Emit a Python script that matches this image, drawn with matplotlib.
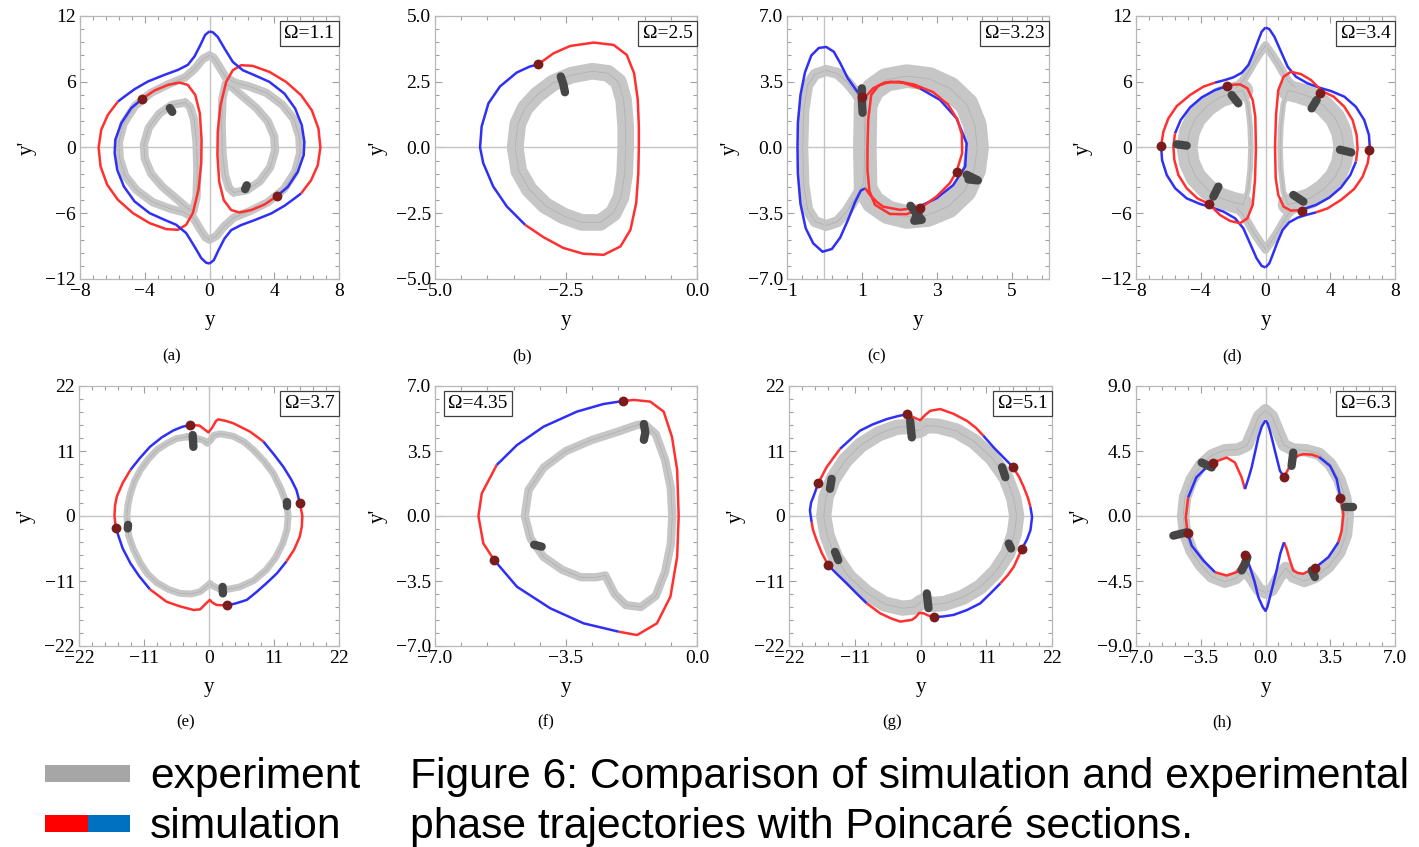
import matplotlib.pyplot as plt
from matplotlib.patches import Rectangle
from matplotlib.ticker import AutoMinorLocator

plt.rcParams['font.family'] = ['Liberation Serif', 'DejaVu Serif']

# ---------------- data ----------------
# simulation curves: list of (phase colour, points); consecutive pieces share end points
# (a) Omega = 1.1, half of the orbit, the other half is the point reflection
a_sim_half = [
    ('b', [(0, 10.6), (-0.27, 10.27), (-0.56, 9.36), (-0.93, 8.30), (-1.34, 7.54), (-1.95, 7.08),
           (-2.78, 6.63), (-3.81, 6.02), (-4.63, 5.32), (-5.25, 4.65), (-5.66, 4.19)]),
    ('r', [(-5.66, 4.19), (-6.28, 2.98), (-6.69, 1.61), (-6.85, 0), (-6.73, -1.73), (-6.32, -3.40),
           (-5.66, -4.77), (-4.73, -5.99), (-3.70, -6.90), (-2.67, -7.45), (-1.95, -7.51), (-1.44, -7.05),
           (-1.03, -5.99), (-0.68, -3.86), (-0.51, -1.43), (-0.49, 0.70), (-0.60, 3.13), (-0.88, 4.80),
           (-1.34, 5.71), (-1.85, 5.93), (-2.57, 5.71), (-3.40, 5.20), (-4.16, 4.44)]),
    ('b', [(-4.16, 4.44), (-4.84, 3.59), (-5.45, 2.22), (-5.82, 0.70), (-5.86, -0.52), (-5.70, -2.04),
           (-5.29, -3.56), (-4.63, -4.92), (-3.70, -5.99), (-2.78, -6.60), (-2.06, -7.05), (-1.44, -7.81),
           (-0.93, -9.03), (-0.51, -10.09), (-0.22, -10.5), (0, -10.6)]),
]
a_exp_outer_half = [(0, 8.4), (-0.4, 8.1), (-0.9, 7.2), (-1.5, 6.4), (-2.5, 5.8), (-3.6, 5.0), (-4.6, 3.8),
                    (-5.3, 2.2), (-5.6, 0.5), (-5.55, -1.0), (-5.2, -2.6), (-4.5, -3.9), (-3.5, -5.0),
                    (-2.4, -5.6), (-1.6, -5.9), (-1.0, -6.4), (-0.6, -7.4), (-0.25, -8.2), (0, -8.4)]
a_exp_inner = [(-1.5, 4.1), (-2.3, 3.9), (-3.1, 3.1), (-3.75, 1.8), (-4.05, 0.3), (-4.0, -1.0), (-3.6, -2.4),
               (-2.9, -3.6), (-2.1, -4.6), (-1.4, -5.5), (-1.0, -5.8), (-0.8, -4.5), (-0.75, -2.0),
               (-0.8, 0.5), (-0.95, 2.5), (-1.2, 3.7), (-1.5, 4.1)]
a_blobs = [[(-2.45, 3.6), (-2.3, 3.25)], [(2.3, -3.45), (2.2, -3.8)]]
a_dots = [(-4.16, 4.44), (4.16, -4.44)]

# (b) Omega = 2.5
b_sim = [
    ('r', [(-3.03, 3.16), (-2.74, 3.58), (-2.42, 3.86), (-1.97, 3.99), (-1.59, 3.90), (-1.34, 3.52),
           (-1.20, 2.82), (-1.13, 1.81), (-1.11, 0.80), (-1.11, 0), (-1.12, -0.97), (-1.16, -2.11),
           (-1.27, -3.13), (-1.46, -3.76), (-1.78, -4.08), (-2.17, -4.04), (-2.55, -3.82), (-2.93, -3.41),
           (-3.28, -2.94)]),
    ('b', [(-3.28, -2.94), (-3.63, -2.24), (-3.89, -1.48), (-4.08, -0.59), (-4.14, 0), (-4.11, 0.80),
           (-3.98, 1.68), (-3.76, 2.32), (-3.44, 2.85), (-3.19, 3.08), (-3.03, 3.16)]),
]
b_exp = [(-3.47, 0), (-3.42, 0.9), (-3.28, 1.5), (-3.05, 2.0), (-2.75, 2.45), (-2.4, 2.75), (-2.0, 2.9),
         (-1.7, 2.82), (-1.5, 2.5), (-1.4, 1.8), (-1.36, 0.8), (-1.36, 0), (-1.38, -1.0), (-1.45, -1.9),
         (-1.6, -2.5), (-1.85, -2.85), (-2.2, -2.85), (-2.55, -2.6), (-2.9, -2.2), (-3.2, -1.6),
         (-3.4, -0.9), (-3.47, 0)]
b_blobs = [[(-2.6, 2.7), (-2.55, 2.4), (-2.52, 2.1)]]
b_dots = [(-3.03, 3.16)]

# (c) Omega = 3.23
c_sim = [
    ('b', [(1.0, 2.67), (0.85, 3.05), (0.62, 3.7), (0.42, 4.5), (0.25, 5.1), (0.05, 5.35), (-0.15, 5.3),
           (-0.35, 4.9), (-0.52, 4.0), (-0.64, 2.8), (-0.71, 1.3), (-0.72, 0), (-0.71, -1.4), (-0.64, -3.0),
           (-0.5, -4.3), (-0.3, -5.1), (-0.05, -5.55), (0.2, -5.4), (0.42, -4.8), (0.62, -3.9),
           (0.82, -2.9), (0.97, -2.3), (1.09, -2.17)]),
    ('r', [(1.09, -2.17), (1.22, -2.53), (1.4, -2.9), (1.57, -3.15), (2.02, -3.32), (2.47, -3.2)]),
    ('b', [(2.47, -3.2), (3.0, -2.7), (3.44, -2.0), (3.76, -1.02), (3.8, 0.22), (3.53, 1.55), (3.09, 2.53),
           (2.55, 3.15)]),
    ('r', [(2.55, 3.15), (2.1, 3.45), (1.75, 3.5), (1.45, 3.3), (1.25, 2.8), (1.17, 1.5), (1.15, 0),
           (1.15, -1.2), (1.2, -2.3), (1.35, -3.05), (1.75, -3.54), (2.2, -3.55), (2.55, -3.25),
           (3.0, -2.6), (3.35, -1.9), (3.53, -1.29), (3.68, -0.3), (3.67, 0.7), (3.55, 1.5), (3.3, 2.3),
           (2.9, 2.95), (2.4, 3.35), (2.0, 3.5), (1.6, 3.45), (1.3, 3.15), (1.12, 2.75), (1.0, 2.67)]),
]
c_exp_left = [(1.05, 2.2), (0.85, 2.9), (0.6, 3.5), (0.35, 3.95), (0.05, 4.1), (-0.25, 3.9), (-0.45, 3.3),
              (-0.55, 2.0), (-0.58, 0), (-0.55, -2.0), (-0.45, -3.3), (-0.25, -3.95), (0.05, -4.15),
              (0.35, -3.95), (0.6, -3.4), (0.85, -2.6), (1.05, -1.9), (1.08, 0), (1.05, 2.2)]
c_exp_right = [(1.1, 2.3), (1.3, 3.1), (1.65, 3.6), (2.2, 3.8), (2.8, 3.65), (3.35, 3.15), (3.8, 2.3),
               (4.02, 1.2), (4.08, 0), (4.0, -1.2), (3.75, -2.3), (3.3, -3.15), (2.75, -3.6), (2.2, -3.7),
               (1.7, -3.45), (1.3, -2.9), (1.1, -2.2), (1.08, 0), (1.1, 2.3)]
c_blobs = [[(1.0, 3.15), (1.0, 2.5), (1.02, 1.85)],
           [(2.3, -3.1), (2.45, -3.5), (2.6, -3.85), (2.4, -3.9), (2.55, -3.3)],
           [(3.8, -1.45), (3.95, -1.6), (4.1, -1.75), (3.85, -1.7)]]
c_dots = [(1.0, 2.67), (3.53, -1.29), (2.55, -3.2)]

# (d) Omega = 3.4, halves, the rest is the point reflection
d_sim_outer_half = [
    ('b', [(0, 10.95), (-0.24, 10.56), (-0.44, 9.80), (-0.75, 8.59), (-1.06, 7.52), (-1.47, 6.82),
           (-1.99, 6.40), (-2.50, 6.16), (-3.12, 5.92)]),
    ('r', [(-3.12, 5.92), (-3.84, 5.55), (-4.66, 4.79), (-5.48, 3.78), (-6.00, 2.66), (-6.31, 1.44),
           (-6.45, 0.14)]),
    ('b', [(-6.45, 0.14), (-6.39, -1.14), (-6.10, -2.51), (-5.58, -3.72), (-4.87, -4.64), (-4.05, -5.15),
           (-3.33, -5.46), (-2.60, -5.85), (-1.88, -6.46), (-1.37, -7.37), (-0.96, -8.74), (-0.55, -10.11),
           (-0.24, -10.8), (0, -10.95)]),
]
d_sim_loop = [
    ('b', [(-2.36, 5.61), (-3.12, 5.24), (-3.94, 4.57), (-4.66, 3.66), (-5.24, 2.51), (-5.59, 1.29)]),
    ('r', [(-5.59, 1.29), (-5.69, 0.08), (-5.63, -1.14), (-5.38, -2.51), (-4.87, -3.72), (-4.21, -4.64),
           (-3.49, -5.15), (-2.81, -6.16), (-2.19, -6.70), (-1.57, -6.91), (-1.12, -6.46), (-0.79, -5.24),
           (-0.65, -2.96), (-0.59, -0.08), (-0.63, 2.81), (-0.79, 4.33), (-1.12, 5.40), (-1.57, 5.76),
           (-1.99, 5.73), (-2.36, 5.61)]),
]
d_exp_arc = [(-1.4, 5.2), (-2.0, 5.0), (-2.8, 4.6), (-3.6, 3.8), (-4.3, 2.7), (-4.7, 1.4), (-4.85, 0),
             (-4.7, -1.4), (-4.3, -2.7), (-3.6, -3.8), (-2.8, -4.6), (-2.0, -5.0), (-1.4, -5.2)]
d_exp_side = [(-1.4, 5.2), (-1.1, 4.0), (-0.95, 2.0), (-0.9, 0), (-0.95, -2.0), (-1.1, -4.0), (-1.4, -5.2)]
d_exp_spikes = [[(0, 9.3), (-0.35, 8.6), (-0.75, 7.7), (-1.1, 6.8), (-1.4, 6.1), (-1.8, 5.5)],
                [(0, -9.3), (-0.35, -8.6), (-0.75, -7.7), (-1.1, -6.8), (-1.4, -6.1), (-1.8, -5.5)]]
d_blobs = [[(-2.09, 4.79), (-1.68, 4.03)], [(-5.48, 0.29), (-4.87, 0.17)], [(-3.22, -4.48), (-2.91, -3.57)],
           [(2.85, 3.57), (3.16, 4.33)], [(4.6, -0.2), (5.3, -0.45)], [(1.72, -4.33), (2.34, -4.94)]]
d_dots = [(-6.45, 0.14), (-2.36, 5.61), (-3.49, -5.15), (6.37, -0.23), (3.38, 5.0), (2.27, -5.76)]

# (e) Omega = 3.7
e_sim = [
    ('r', [(-3.21, 15.4), (-1.6, 15.3), (-0.7, 14.6), (-0.1, 14.15), (0.5, 14.9), (1.2, 16.1), (1.6, 16.35),
           (2.8, 16.1), (4.1, 15.7), (5.5, 15.0), (6.9, 14.3), (8.0, 13.5), (9.2, 12.6)]),
    ('b', [(9.2, 12.6), (11.0, 10.4), (12.6, 8.3), (13.9, 6.2), (14.8, 4.4), (15.36, 2.26)]),
    ('r', [(15.36, 2.26), (15.8, 0), (15.7, -1.8), (15.36, -3.5), (14.4, -5.7), (13.1, -7.7)]),
    ('b', [(13.1, -7.7), (11.5, -9.7), (9.7, -11.4), (8.0, -12.9), (6.4, -14.2), (4.5, -14.8), (2.98, -15.12)]),
    ('r', [(2.98, -15.12), (1.3, -15.06), (0.5, -14.6), (0.15, -14.2), (-0.5, -14.8), (-1.5, -15.8),
           (-2.6, -15.9), (-4.9, -15.3), (-7.2, -14.5), (-10.0, -12.4)]),
    ('b', [(-10.0, -12.4), (-11.8, -10.2), (-13.3, -8.0), (-14.6, -5.5), (-15.76, -2.09)]),
    ('r', [(-15.76, -2.09), (-16.0, 0), (-15.9, 1.8), (-15.6, 3.3), (-14.6, 5.6), (-13.3, 7.8)]),
    ('b', [(-13.3, 7.8), (-11.7, 9.8), (-10.0, 11.7), (-8.0, 13.3), (-6.0, 14.5), (-4.5, 15.1), (-3.21, 15.4)]),
]
e_exp = [(-3.77, 13.4), (-2.0, 13.1), (-0.9, 12.8), (-0.3, 12.3), (0.3, 12.9), (0.9, 13.7), (2.0, 13.9),
         (4.1, 13.5), (6.0, 12.5), (7.5, 11.2), (9.3, 9.3), (10.9, 7.2), (12.2, 4.5), (13.1, 2.1), (13.4, 0),
         (13.2, -2.3), (12.5, -4.6), (11.3, -7.0), (9.7, -9.1), (7.6, -10.9), (5.2, -12.0), (3.2, -12.4),
         (1.86, -12.4), (0.6, -11.8), (0.17, -11.4), (-0.5, -12.0), (-1.5, -12.8), (-3.0, -13.2),
         (-4.9, -13.1), (-6.9, -12.4), (-8.8, -11.3), (-10.4, -9.8), (-11.6, -8.0), (-12.8, -5.6),
         (-13.6, -3.3), (-13.9, 0), (-13.7, 2.0), (-13.3, 3.8), (-12.6, 5.9), (-11.6, 7.8), (-10.3, 9.6),
         (-8.8, 11.2), (-7.1, 12.3), (-5.5, 13.1), (-3.77, 13.4)]
e_blobs = [[(-2.76, 13.7), (-2.64, 11.7)], [(-13.7, -1.5), (-13.75, -2.1)], [(13.2, 2.3), (13.2, 1.7)],
           [(2.3, -12.0), (2.35, -13.1)]]
e_dots = [(-3.21, 15.4), (15.36, 2.26), (2.98, -15.12), (-15.76, -2.09)]

# (f) Omega = 4.35
f_sim = [
    ('r', [(-1.98, 6.19), (-1.69, 6.25), (-1.25, 6.16), (-0.89, 5.62), (-0.67, 4.27), (-0.53, 2.48),
           (-0.49, 0), (-0.53, -2.19), (-0.71, -4.34), (-1.07, -5.78), (-1.6, -6.41), (-2.09, -6.23)]),
    ('b', [(-2.09, -6.23), (-3.03, -5.78), (-3.92, -4.97), (-4.81, -3.81), (-5.42, -2.37)]),
    ('r', [(-5.42, -2.37), (-5.71, -1.47), (-5.84, 0), (-5.75, 1.22), (-5.35, 2.75)]),
    ('b', [(-5.35, 2.75), (-4.81, 3.82), (-4.1, 4.81), (-3.21, 5.62), (-2.5, 6.03), (-1.98, 6.19)]),
]
f_exp = [(-1.4, 4.95), (-1.1, 4.4), (-0.85, 3.0), (-0.7, 1.5), (-0.66, 0), (-0.7, -1.5), (-0.85, -3.0),
         (-1.1, -4.3), (-1.5, -4.9), (-1.9, -4.8), (-2.2, -4.2), (-2.45, -3.2), (-2.7, -3.3), (-3.1, -3.3),
         (-3.6, -2.9), (-4.1, -2.2), (-4.45, -1.2), (-4.6, 0), (-4.5, 1.4), (-4.1, 2.6), (-3.5, 3.5),
         (-2.8, 4.1), (-2.1, 4.55), (-1.6, 4.9), (-1.4, 4.95)]
f_blobs = [[(-1.42, 4.95), (-1.38, 4.5), (-1.42, 4.1)], [(-4.35, -1.55), (-4.15, -1.65)]]
f_dots = [(-1.98, 6.19), (-5.42, -2.37)]

# (g) Omega = 5.1
g_sim = [
    ('r', [(-2.18, 17.25), (-1.17, 16.7), (-0.06, 16.2), (0.8, 17.1), (1.62, 17.8), (3.3, 18.1), (5.5, 17.3),
           (7.77, 16.1), (9.3, 14.9), (10.5, 13.6)]),
    ('b', [(10.5, 13.6), (12.24, 11.6), (13.9, 9.9), (15.48, 8.26)]),
    ('r', [(15.48, 8.26), (16.5, 6.6), (17.27, 4.89), (18.0, 3.0), (18.39, 1.52)]),
    ('b', [(18.39, 1.52), (18.67, -0.17), (18.39, -2.42), (17.8, -4.0), (16.99, -5.51)]),
    ('r', [(16.99, -5.51), (15.6, -8.6), (14.6, -10.0), (13.36, -11.4)]),
    ('b', [(13.36, -11.4), (11.8, -13.0), (10.0, -14.78), (7.8, -15.9), (5.53, -16.74), (3.8, -17.0),
           (2.18, -17.13)]),
    ('r', [(2.18, -17.13), (1.2, -16.8), (0.5, -16.46), (-0.2, -16.4), (-0.8, -17.1), (-1.45, -17.58),
           (-3.41, -17.87), (-5.0, -17.3), (-6.76, -16.46), (-9.0, -14.78)]),
    ('b', [(-9.0, -14.78), (-10.7, -13.1), (-12.35, -11.4), (-14.0, -9.8), (-15.43, -8.31)]),
    ('r', [(-15.43, -8.31), (-16.5, -6.3), (-17.38, -4.1), (-18.0, -2.3), (-18.22, -1.01)]),
    ('b', [(-18.22, -1.01), (-18.5, 0.96), (-18.3, 2.3), (-17.94, 3.2), (-17.1, 5.56)]),
    ('r', [(-17.1, 5.56), (-15.71, 8.26), (-14.6, 9.8), (-13.47, 11.35)]),
    ('b', [(-13.47, 11.35), (-11.8, 12.9), (-10.12, 14.44), (-8.0, 15.5), (-5.65, 16.4), (-3.8, 16.9),
           (-2.18, 17.25)]),
]
g_exp = [(0, 14.6), (1.0, 15.3), (3, 15.2), (6, 14.4), (9, 12.6), (12, 9.8), (14.3, 6.5), (15.6, 3.0),
         (16.1, 0), (15.7, -3.0), (14.6, -6.3), (12.6, -9.4), (10, -12), (7, -13.8), (4, -14.8), (1.8, -15.0),
         (0.8, -14.3), (0, -14.6), (-1.0, -15.4), (-3, -15.6), (-6, -14.9), (-9, -13.0), (-12, -10.3),
         (-14.2, -7.0), (-15.6, -3.4), (-16.2, 0), (-15.8, 3.2), (-14.6, 6.3), (-12.6, 9.4), (-10, 12),
         (-7, 13.9), (-4, 15.0), (-1.5, 15.2), (-0.6, 14.4), (0, 14.6)]
g_blobs = [[(-1.73, 16.1), (-1.6, 14.7), (-1.45, 13.3)], [(-14.87, 6.29), (-15.15, 4.6)],
           [(-14.3, -6.07), (-13.75, -7.47)], [(1.06, -13.1), (1.2, -14.4), (1.34, -15.6)],
           [(13.64, 8.26), (14.2, 6.57)], [(14.76, -4.66), (15.15, -5.5)]]
g_dots = [(-2.18, 17.25), (15.48, 8.26), (16.99, -5.51), (2.18, -17.13), (-15.43, -8.31), (-17.1, 5.56)]

# (h) Omega = 6.3
h_sim = [
    ('b', [(0, 6.62), (0.12, 6.4), (0.24, 5.89), (0.38, 5.2), (0.51, 4.51), (0.65, 3.8), (0.78, 3.13), (1.0, 2.71)]),
    ('r', [(1.0, 2.71), (1.23, 3.24), (1.5, 3.93), (1.8, 4.2), (2.04, 4.28), (2.5, 4.25), (2.9, 4.08)]),
    ('b', [(2.9, 4.08), (3.49, 3.47), (3.85, 2.55), (4.05, 1.24)]),
    ('r', [(4.05, 1.24), (4.21, 0.14), (4.12, -1.01), (3.94, -1.82)]),
    ('b', [(3.94, -1.82), (3.4, -2.85), (2.68, -3.59)]),
    ('r', [(2.68, -3.59), (2.04, -4.0), (1.75, -3.95), (1.5, -3.77), (1.3, -3.0), (1.15, -2.3), (1.0, -1.82)]),
    ('b', [(1.0, -1.82), (0.8, -2.6), (0.6, -3.77), (0.4, -4.8), (0.24, -5.61), (0.1, -6.3), (0, -6.57),
           (-0.15, -6.3), (-0.39, -5.61), (-0.6, -4.5), (-0.84, -3.54), (-1.09, -2.67)]),
    ('r', [(-1.09, -2.67), (-1.29, -3.31), (-1.56, -3.89), (-2.1, -4.12), (-2.73, -3.89)]),
    ('b', [(-2.73, -3.89), (-3.36, -3.08), (-3.99, -2.05), (-4.21, -1.2)]),
    ('r', [(-4.21, -1.2), (-4.31, -0.09), (-4.18, 1.29)]),
    ('b', [(-4.18, 1.29), (-3.74, 2.67), (-3.11, 3.47), (-2.83, 3.7)]),
    ('r', [(-2.83, 3.7), (-2.1, 4.05), (-1.65, 3.7), (-1.29, 2.67), (-1.11, 1.86)]),
    ('b', [(-1.11, 1.86), (-0.9, 2.7), (-0.75, 3.36), (-0.55, 4.5), (-0.39, 5.43), (-0.2, 6.2), (0, 6.62)]),
]
h_exp = [(0, 7.3), (0.35, 6.9), (0.7, 5.8), (1.0, 4.9), (1.5, 4.6), (2.2, 4.55), (2.9, 4.3), (3.5, 3.6),
         (4.0, 2.5), (4.3, 1.3), (4.45, 0), (4.35, -1.3), (4.0, -2.5), (3.4, -3.5), (2.7, -4.2), (2.1, -4.5),
         (1.5, -4.2), (1.1, -3.6), (0.7, -4.3), (0.35, -5.1), (0, -5.3), (-0.35, -5.1), (-0.7, -4.4),
         (-1.1, -3.7), (-1.6, -4.3), (-2.2, -4.55), (-2.9, -4.2), (-3.5, -3.4), (-4.0, -2.4), (-4.35, -1.2),
         (-4.45, 0), (-4.35, 1.3), (-4.0, 2.5), (-3.5, 3.5), (-2.9, 4.2), (-2.2, 4.55), (-1.5, 4.6),
         (-1.0, 4.9), (-0.7, 5.8), (-0.35, 6.9), (0, 7.3)]
h_blobs = [[(-3.45, 3.7), (-2.91, 3.36)], [(-0.98, -2.85), (-1.1, -3.3), (-1.29, -3.77)],
           [(-4.98, -1.36), (-4.26, -1.13)], [(1.5, 4.39), (1.41, 3.47)], [(4.3, 0.6), (4.75, 0.6)],
           [(2.5, -3.77), (2.67, -4.23)]]
h_dots = [(1.0, 2.71), (4.05, 1.24), (2.68, -3.59), (-1.09, -2.67), (-4.21, -1.2), (-2.83, 3.7)]

omegas = ['1.1', '2.5', '3.23', '3.4', '3.7', '4.35', '5.1', '6.3']
panel_tags = ['(a)', '(b)', '(c)', '(d)', '(e)', '(f)', '(g)', '(h)']
x_ticks = [[-8, -4, 0, 4, 8], [-5, -2.5, 0], [-1, 1, 3, 5], [-8, -4, 0, 4, 8],
           [-22, -11, 0, 11, 22], [-7, -3.5, 0], [-22, -11, 0, 11, 22], [-7, -3.5, 0, 3.5, 7]]
y_ticks = [[-12, -6, 0, 6, 12], [-5, -2.5, 0, 2.5, 5], [-7, -3.5, 0, 3.5, 7], [-12, -6, 0, 6, 12],
           [-22, -11, 0, 11, 22], [-7, -3.5, 0, 3.5, 7], [-22, -11, 0, 11, 22], [-9, -4.5, 0, 4.5, 9]]
x_lims = [(-8, 8), (-5, 0), (-1, 6), (-8, 8), (-22, 22), (-7, 0), (-22, 22), (-7, 7)]
y_lims = [(-12, 12), (-5, 5), (-7, 7), (-12, 12), (-22, 22), (-7, 7), (-22, 22), (-9, 9)]
decimals = [0, 1, 0, 0, 0, 1, 0, 1]
y_decimals = [0, 1, 1, 0, 0, 1, 0, 1]


def flip(pts):
    return [(-x, -y) for x, y in pts]


def flip_segs(segs):
    return [(k, flip(p)) for k, p in segs]


def fmt(v, nd):
    s = f'{abs(v):.{nd}f}'
    return ('\u2212' + s) if v < 0 else s


RED = '#ff3030'
BLUE = '#3030f5'
SIM_COL = {'r': RED, 'b': BLUE}
DOT = '#7a1c1c'
BLOB = '#464646'
BAND = '#c6c6c6'

fig = plt.figure(figsize=(14.19, 8.47), dpi=100)
W, H = 1419, 847
boxes = [(80, 16, 339, 279), (435, 16, 697, 279), (787, 16, 1049, 279), (1136, 16, 1395, 279),
         (79, 386, 339, 646), (435, 386, 697, 646), (789, 386, 1052, 646), (1136, 386, 1395, 646)]
tag_x = [172, 522, 877, 1232, 186, 546, 892, 1222]
axs = []
for i, (l, t, r, b) in enumerate(boxes):
    ax = fig.add_axes([l / W, 1 - b / H, (r - l) / W, (b - t) / H])
    axs.append(ax)


def band(ax, pts, w):
    xs, ys = zip(*pts)
    ax.plot(xs, ys, color=BAND, lw=w, solid_joinstyle='round', solid_capstyle='round', zorder=1)
    ax.plot(xs, ys, color='#b2b2b2', lw=0.6, solid_joinstyle='round', zorder=1.2)


def sim(ax, segs):
    for k, pts in segs:
        xs, ys = zip(*pts)
        ax.plot(xs, ys, color=SIM_COL[k], lw=1.8, solid_capstyle='butt', solid_joinstyle='round', zorder=3)


def blobs(ax, bl):
    for pts in bl:
        xs, ys = zip(*pts)
        ax.plot(xs, ys, color=BLOB, lw=6, solid_capstyle='round', solid_joinstyle='round', zorder=4)


def dots(ax, dd):
    xs, ys = zip(*dd)
    ax.scatter(xs, ys, s=50, color=DOT, zorder=5, linewidths=0)


# (a)
ax = axs[0]
band(ax, a_exp_outer_half, 6)
band(ax, flip(a_exp_outer_half), 6)
band(ax, a_exp_inner, 6)
band(ax, flip(a_exp_inner), 6)
sim(ax, a_sim_half + flip_segs(a_sim_half))
blobs(ax, a_blobs)
dots(ax, a_dots)

# (b)
ax = axs[1]
band(ax, b_exp, 12)
sim(ax, b_sim)
blobs(ax, b_blobs)
dots(ax, b_dots)

# (c)
ax = axs[2]
band(ax, c_exp_left, 8)
band(ax, c_exp_right, 17)
sim(ax, c_sim)
blobs(ax, c_blobs)
dots(ax, c_dots)

# (d)
ax = axs[3]
band(ax, d_exp_arc, 15)
band(ax, flip(d_exp_arc), 15)
band(ax, d_exp_side, 4)
band(ax, flip(d_exp_side), 4)
for sp in d_exp_spikes:
    band(ax, sp, 6)
    band(ax, flip(sp), 6)
sim(ax, d_sim_outer_half + flip_segs(d_sim_outer_half))
sim(ax, d_sim_loop)
sim(ax, flip_segs(d_sim_loop))
blobs(ax, d_blobs)
dots(ax, d_dots)

# (e)
ax = axs[4]
band(ax, e_exp, 5)
sim(ax, e_sim)
blobs(ax, e_blobs)
dots(ax, e_dots)

# (f)
ax = axs[5]
band(ax, f_exp, 6)
sim(ax, f_sim)
blobs(ax, f_blobs)
dots(ax, f_dots)

# (g)
ax = axs[6]
band(ax, g_exp, 11)
sim(ax, g_sim)
blobs(ax, g_blobs)
dots(ax, g_dots)

# (h)
ax = axs[7]
band(ax, h_exp, 9)
sim(ax, h_sim)
blobs(ax, h_blobs)
dots(ax, h_dots)

for i, ax in enumerate(axs):
    ax.set_xlim(*x_lims[i])
    ax.set_ylim(*y_lims[i])
    ax.set_xticks(x_ticks[i], [fmt(v, decimals[i]) for v in x_ticks[i]])
    ax.set_yticks(y_ticks[i], [fmt(v, y_decimals[i]) for v in y_ticks[i]])
    ax.xaxis.set_minor_locator(AutoMinorLocator(5))
    ax.yaxis.set_minor_locator(AutoMinorLocator(5))
    ax.tick_params(which='both', direction='in', top=True, right=True, color='#a0a0a0', width=0.8,
                   labelsize=14, pad=3)
    ax.tick_params(which='major', length=5)
    ax.tick_params(which='minor', length=3)
    for s in ax.spines.values():
        s.set_color('#b8b8b8')
        s.set_linewidth(0.9)
    ax.axhline(0, color='#c4c4c4', lw=1.0, zorder=2)
    ax.axvline(0, color='#c4c4c4', lw=1.0, zorder=2)
    ax.set_xlabel('y', fontsize=15, labelpad=8)
    ax.set_ylabel("y'", fontsize=15, labelpad=6)
    if i == 5:
        ax.text(0.05, 0.965, '\u03a9=' + omegas[i], transform=ax.transAxes, ha='left', va='top',
                fontsize=14, zorder=6,
                bbox=dict(boxstyle='square,pad=0.22', fc='white', ec='#404040', lw=0.9))
    else:
        ax.text(0.982, 0.965, '\u03a9=' + omegas[i], transform=ax.transAxes, ha='right', va='top',
                fontsize=14, zorder=6,
                bbox=dict(boxstyle='square,pad=0.22', fc='white', ec='#404040', lw=0.9))
    ty = 356 if i < 4 else 722
    fig.text(tag_x[i] / W, 1 - ty / H, panel_tags[i], ha='center', va='center', fontsize=12)

# legend and caption
fig.add_artist(Rectangle((45 / W, 1 - 782 / H), 85 / W, 17 / H, transform=fig.transFigure,
                         color='#a6a6a6', lw=0))
fig.add_artist(Rectangle((45 / W, 1 - 832 / H), 43 / W, 17 / H, transform=fig.transFigure,
                         color='#ff0000', lw=0))
fig.add_artist(Rectangle((88 / W, 1 - 832 / H), 42 / W, 17 / H, transform=fig.transFigure,
                         color='#0070c0', lw=0))
sans = ['Liberation Sans', 'DejaVu Sans']
fig.text(150 / W, 1 - 788 / H, 'experiment', fontsize=30.6, family=sans, va='baseline')
fig.text(150 / W, 1 - 838 / H, 'simulation', fontsize=30.6, family=sans, va='baseline')
fig.text(410 / W, 1 - 788 / H, 'Figure 6: Comparison of simulation and experimental', fontsize=30.7,
         family=sans, va='baseline')
fig.text(410 / W, 1 - 838 / H, 'phase trajectories with Poincaré sections.', fontsize=30.7,
         family=sans, va='baseline')

fig.savefig('out.png', dpi=100)
